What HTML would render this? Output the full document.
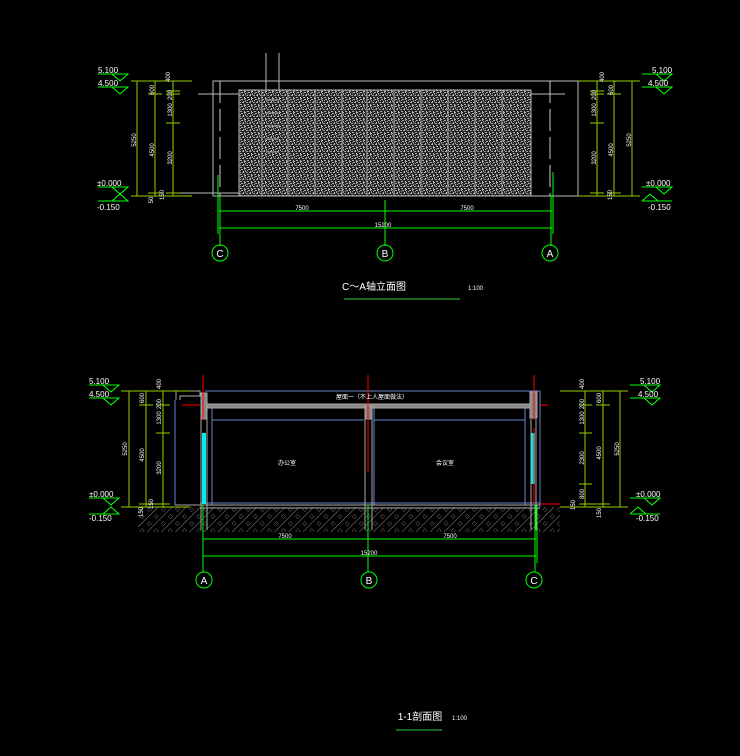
<!DOCTYPE html>
<html><head><meta charset="utf-8"><style>
html,body{margin:0;padding:0;background:#000;}
svg{display:block}
text{font-family:"Liberation Sans","Noto Sans CJK SC",sans-serif;}
</style></head><body>
<svg width="740" height="756" viewBox="0 0 740 756" xmlns="http://www.w3.org/2000/svg" shape-rendering="crispEdges">
<defs>
<pattern id="nz" width="7" height="7" patternUnits="userSpaceOnUse">
<rect width="7" height="7" fill="#262626"/>
<rect x="0" y="0" width="1" height="1" fill="#bbb"/><rect x="3" y="1" width="2" height="1" fill="#aaa"/>
<rect x="5" y="3" width="1" height="2" fill="#bbb"/><rect x="1" y="4" width="2" height="1" fill="#999"/>
<rect x="2" y="6" width="2" height="1" fill="#aaa"/><rect x="6" y="6" width="1" height="1" fill="#bbb"/>
<rect x="4" y="4" width="1" height="1" fill="#999"/><rect x="0" y="2" width="1" height="2" fill="#999"/>
<rect x="6" y="0" width="1" height="2" fill="#aaa"/><rect x="2" y="2" width="1" height="1" fill="#999"/>
</pattern>
<pattern id="ht" width="10" height="10" patternUnits="userSpaceOnUse" patternTransform="rotate(45)">
<line x1="0" y1="0" x2="0" y2="10" stroke="#888" stroke-width="1"/>
<rect x="4" y="3" width="3" height="3" fill="none" stroke="#777" stroke-width="0.8"/>
</pattern>
<g id="mk">
<line x1="0" y1="0" x2="30" y2="0" stroke="#0f0" stroke-width="1"/>
<polyline points="14,0 30,0 22,7 14,0" fill="none" stroke="#0f0"/>
</g>
</defs>

<!-- ===== TOP ELEVATION ===== -->
<g stroke="#bbb" fill="none" stroke-width="1">
<rect x="213" y="81" width="365" height="115"/>
<line x1="198" y1="94" x2="565" y2="94"/>
<line x1="166" y1="193" x2="240" y2="193"/>
<line x1="266" y1="53" x2="266" y2="157"/><line x1="279" y1="53" x2="279" y2="157"/>
</g>
<rect x="239" y="90" width="292" height="106" fill="url(#nz)" stroke="#bbb"/>
<g stroke="#999" stroke-width="1">
<line x1="262" y1="90" x2="262" y2="196"/><line x1="288" y1="90" x2="288" y2="196"/>
<line x1="315" y1="90" x2="315" y2="196"/><line x1="342" y1="90" x2="342" y2="196"/>
<line x1="367" y1="90" x2="367" y2="196"/><line x1="394" y1="90" x2="394" y2="196"/>
<line x1="421" y1="90" x2="421" y2="196"/><line x1="448" y1="90" x2="448" y2="196"/>
<line x1="475" y1="90" x2="475" y2="196"/><line x1="502" y1="90" x2="502" y2="196"/>
</g>
<g stroke="#aaa" stroke-width="1">
<line x1="266" y1="100" x2="279" y2="100"/><line x1="266" y1="113" x2="279" y2="113"/>
<line x1="266" y1="126" x2="279" y2="126"/><line x1="266" y1="139" x2="279" y2="139"/>
<line x1="266" y1="152" x2="279" y2="152"/>
</g>
<g stroke="#ccc" stroke-dasharray="22,6">
<line x1="220" y1="81" x2="220" y2="196"/><line x1="550" y1="81" x2="550" y2="196"/>
</g>
<g stroke="#0f0" stroke-width="1">
<line x1="218" y1="175" x2="218" y2="234"/><line x1="220" y1="196" x2="220" y2="246"/>
<line x1="553" y1="172" x2="553" y2="234"/><line x1="551" y1="196" x2="551" y2="246"/>
<line x1="385" y1="200" x2="385" y2="246"/>
<line x1="219" y1="211" x2="552" y2="211"/>
<line x1="219" y1="228" x2="552" y2="228"/>
</g>
<g stroke="#0f0" stroke-width="1" fill="none" shape-rendering="auto">
<circle cx="220" cy="253" r="8"/><circle cx="385" cy="253" r="8"/><circle cx="550" cy="253" r="8"/>
</g>
<g fill="#fff" font-size="10" text-anchor="middle">
<text x="220" y="257">C</text><text x="385" y="257">B</text><text x="550" y="257">A</text>
</g>
<g fill="#fff" font-size="6" text-anchor="middle">
<text x="302" y="210">7500</text><text x="467" y="210">7500</text><text x="383" y="227">15200</text>
</g>
<g stroke="#9c0" stroke-width="1">
<line x1="131" y1="81" x2="192" y2="81"/><line x1="131" y1="196" x2="192" y2="196"/>
<line x1="137" y1="81" x2="137" y2="196"/><line x1="155" y1="81" x2="155" y2="196"/><line x1="173" y1="81" x2="173" y2="196"/>
<line x1="148" y1="94" x2="162" y2="94"/><line x1="166" y1="91" x2="180" y2="91"/><line x1="166" y1="94" x2="180" y2="94"/>
<line x1="166" y1="123" x2="180" y2="123"/><line x1="148" y1="193" x2="162" y2="193"/><line x1="166" y1="193" x2="180" y2="193"/>
</g>
<g fill="#fff" font-size="6" text-anchor="middle">
<text transform="translate(136,140) rotate(-90)">5250</text>
<text transform="translate(154,150) rotate(-90)">4500</text>
<text transform="translate(170,77) rotate(-90)">400</text>
<text transform="translate(154,90) rotate(-90)">600</text>
<text transform="translate(172,95) rotate(-90)">200</text>
<text transform="translate(172,110) rotate(-90)">1300</text>
<text transform="translate(172,158) rotate(-90)">3200</text>
<text transform="translate(153,200) rotate(-90)">50</text>
<text transform="translate(164,195) rotate(-90)">150</text>
</g>
<g stroke="#9c0" stroke-width="1">
<line x1="578" y1="81" x2="640" y2="81"/><line x1="578" y1="196" x2="640" y2="196"/>
<line x1="597" y1="81" x2="597" y2="196"/><line x1="614" y1="81" x2="614" y2="196"/><line x1="632" y1="81" x2="632" y2="196"/>
<line x1="590" y1="91" x2="604" y2="91"/><line x1="590" y1="94" x2="604" y2="94"/><line x1="607" y1="94" x2="621" y2="94"/>
<line x1="590" y1="123" x2="604" y2="123"/><line x1="590" y1="193" x2="604" y2="193"/><line x1="607" y1="193" x2="621" y2="193"/>
</g>
<g fill="#fff" font-size="6" text-anchor="middle">
<text transform="translate(604,77) rotate(-90)">400</text>
<text transform="translate(596,95) rotate(-90)">200</text>
<text transform="translate(596,110) rotate(-90)">1300</text>
<text transform="translate(596,158) rotate(-90)">3200</text>
<text transform="translate(613,90) rotate(-90)">600</text>
<text transform="translate(613,150) rotate(-90)">4500</text>
<text transform="translate(631,140) rotate(-90)">5250</text>
<text transform="translate(612,195) rotate(-90)">150</text>
</g>
<use href="#mk" x="98" y="74"/><use href="#mk" x="98" y="87"/>
<use href="#mk" x="98" y="187"/>
<g stroke="#0f0" fill="none"><line x1="98" y1="201" x2="128" y2="201"/><polyline points="112,201 128,201 120,194 112,201"/></g>
<g fill="#fff" font-size="8">
<text x="98" y="73">5.100</text><text x="98" y="86">4.500</text><text x="97" y="186">±0.000</text><text x="97" y="210">-0.150</text>
</g>
<use href="#mk" x="642" y="74"/><use href="#mk" x="642" y="87"/><use href="#mk" x="642" y="187"/>
<g stroke="#0f0" fill="none"><line x1="642" y1="201" x2="672" y2="201"/><polyline points="642,201 658,201 650,194 642,201"/></g>
<g fill="#fff" font-size="8">
<text x="652" y="73">5.100</text><text x="648" y="86">4.500</text><text x="646" y="186">±0.000</text><text x="648" y="210">-0.150</text>
</g>
<text x="374" y="290" fill="#fff" font-size="10" text-anchor="middle">C～A轴立面图</text>
<text x="468" y="290" fill="#fff" font-size="6">1:100</text>
<line x1="344" y1="299" x2="460" y2="299" stroke="#3c3" stroke-width="1"/>

<!-- ===== BOTTOM SECTION ===== -->
<rect x="138" y="507" width="422" height="25" fill="url(#ht)"/>
<g stroke="#6a85d0" fill="none" stroke-width="1">
<line x1="205" y1="391" x2="540" y2="391"/>
<line x1="175" y1="400" x2="175" y2="505"/>
<line x1="212" y1="407" x2="212" y2="505"/>
<line x1="212" y1="420" x2="364" y2="420"/><line x1="374" y1="420" x2="525" y2="420"/>
<line x1="365" y1="407" x2="365" y2="505"/><line x1="374" y1="407" x2="374" y2="505"/>
<line x1="525" y1="407" x2="525" y2="505"/><line x1="540" y1="391" x2="540" y2="507"/>
<line x1="200" y1="503" x2="540" y2="503"/>
</g>
<g stroke="#aaa" fill="none" stroke-width="1">
<polyline points="176,400 176,391 200,391 200,396 180,396 180,400"/>
<rect x="201" y="404" width="334" height="4" fill="#888"/>
<rect x="201" y="393" width="6" height="26" fill="#888"/>
<rect x="365" y="406" width="7" height="13" fill="#888"/>
<rect x="530" y="392" width="7" height="26" fill="#888"/>
<line x1="201" y1="419" x2="201" y2="530"/><line x1="207" y1="419" x2="207" y2="530"/>
<line x1="365" y1="419" x2="365" y2="530"/><line x1="372" y1="419" x2="372" y2="530"/>
<line x1="531" y1="419" x2="531" y2="530"/><line x1="536" y1="419" x2="536" y2="530"/>
<line x1="200" y1="505" x2="540" y2="505"/><line x1="200" y1="508" x2="540" y2="508"/>
<line x1="175" y1="505" x2="200" y2="505"/>
</g>
<g fill="#0ee">
<rect x="202" y="433" width="4" height="71"/><rect x="531" y="433" width="4" height="51"/>
</g>
<g stroke="#f00" stroke-width="1">
<line x1="203" y1="375" x2="203" y2="420"/><line x1="368" y1="375" x2="368" y2="472"/>
<line x1="534" y1="375" x2="534" y2="420"/><line x1="534" y1="428" x2="534" y2="504"/>
<line x1="182" y1="405" x2="200" y2="405"/><line x1="540" y1="405" x2="548" y2="405"/>
<line x1="540" y1="504" x2="560" y2="504"/>
</g>
<g stroke="#0f0" stroke-width="1">
<line x1="203" y1="505" x2="203" y2="572"/><line x1="368" y1="505" x2="368" y2="572"/>
<line x1="535" y1="505" x2="535" y2="572"/><line x1="537" y1="505" x2="537" y2="563"/>
<line x1="203" y1="539" x2="536" y2="539"/><line x1="203" y1="556" x2="536" y2="556"/>
</g>
<g stroke="#0f0" stroke-width="1" fill="none" shape-rendering="auto">
<circle cx="204" cy="580" r="8"/><circle cx="369" cy="580" r="8"/><circle cx="534" cy="580" r="8"/>
</g>
<g fill="#fff" font-size="10" text-anchor="middle">
<text x="204" y="584">A</text><text x="369" y="584">B</text><text x="534" y="584">C</text>
</g>
<g fill="#fff" font-size="6" text-anchor="middle">
<text x="285" y="538">7500</text><text x="450" y="538">7500</text><text x="369" y="555">15200</text>
<text x="372" y="399">屋面一（不上人屋面做法）</text>
<text x="287" y="465">办公室</text><text x="445" y="465">会议室</text>
</g>
<g stroke="#9c0" stroke-width="1">
<line x1="121" y1="391" x2="190" y2="391"/><line x1="121" y1="507" x2="190" y2="507"/>
<line x1="129" y1="391" x2="129" y2="507"/><line x1="146" y1="391" x2="146" y2="507"/><line x1="163" y1="391" x2="163" y2="507"/>
<line x1="139" y1="405" x2="153" y2="405"/><line x1="156" y1="405" x2="170" y2="405"/><line x1="156" y1="433" x2="170" y2="433"/>
<line x1="139" y1="504" x2="170" y2="504"/>
</g>
<g fill="#fff" font-size="6" text-anchor="middle">
<text transform="translate(127,449) rotate(-90)">5250</text>
<text transform="translate(144,455) rotate(-90)">4500</text>
<text transform="translate(161,384) rotate(-90)">400</text>
<text transform="translate(144,398) rotate(-90)">600</text>
<text transform="translate(161,404) rotate(-90)">200</text>
<text transform="translate(161,418) rotate(-90)">1300</text>
<text transform="translate(161,468) rotate(-90)">3200</text>
<text transform="translate(143,512) rotate(-90)">150</text>
<text transform="translate(153,504) rotate(-90)">150</text>
</g>
<g stroke="#9c0" stroke-width="1">
<line x1="560" y1="391" x2="628" y2="391"/><line x1="560" y1="507" x2="628" y2="507"/>
<line x1="585" y1="391" x2="585" y2="507"/><line x1="603" y1="391" x2="603" y2="507"/><line x1="620" y1="391" x2="620" y2="507"/>
<line x1="579" y1="405" x2="592" y2="405"/><line x1="596" y1="405" x2="610" y2="405"/>
<line x1="579" y1="433" x2="592" y2="433"/><line x1="579" y1="484" x2="592" y2="484"/>
<line x1="579" y1="504" x2="610" y2="504"/>
</g>
<g fill="#fff" font-size="6" text-anchor="middle">
<text transform="translate(584,384) rotate(-90)">400</text>
<text transform="translate(584,404) rotate(-90)">200</text>
<text transform="translate(584,418) rotate(-90)">1300</text>
<text transform="translate(584,458) rotate(-90)">2300</text>
<text transform="translate(584,494) rotate(-90)">800</text>
<text transform="translate(575,505) rotate(-90)">150</text>
<text transform="translate(601,398) rotate(-90)">600</text>
<text transform="translate(601,453) rotate(-90)">4500</text>
<text transform="translate(619,449) rotate(-90)">5250</text>
<text transform="translate(601,513) rotate(-90)">150</text>
</g>
<use href="#mk" x="89" y="385"/><use href="#mk" x="89" y="398"/><use href="#mk" x="89" y="498"/>
<g stroke="#0f0" fill="none"><line x1="89" y1="514" x2="119" y2="514"/><polyline points="103,514 119,514 111,507 103,514"/></g>
<g fill="#fff" font-size="8">
<text x="89" y="384">5.100</text><text x="89" y="397">4.500</text><text x="89" y="497">±0.000</text><text x="89" y="521">-0.150</text>
</g>
<use href="#mk" x="630" y="385"/><use href="#mk" x="630" y="398"/><use href="#mk" x="630" y="498"/>
<g stroke="#0f0" fill="none"><line x1="630" y1="514" x2="660" y2="514"/><polyline points="630,514 646,514 638,507 630,514"/></g>
<g fill="#fff" font-size="8">
<text x="640" y="384">5.100</text><text x="638" y="397">4.500</text><text x="636" y="497">±0.000</text><text x="636" y="521">-0.150</text>
</g>
<text x="420" y="720" fill="#fff" font-size="10" text-anchor="middle">1-1剖面图</text>
<text x="452" y="720" fill="#fff" font-size="6">1:100</text>
<line x1="396" y1="730" x2="442" y2="730" stroke="#3c3" stroke-width="1"/>
</svg>
</body></html>
